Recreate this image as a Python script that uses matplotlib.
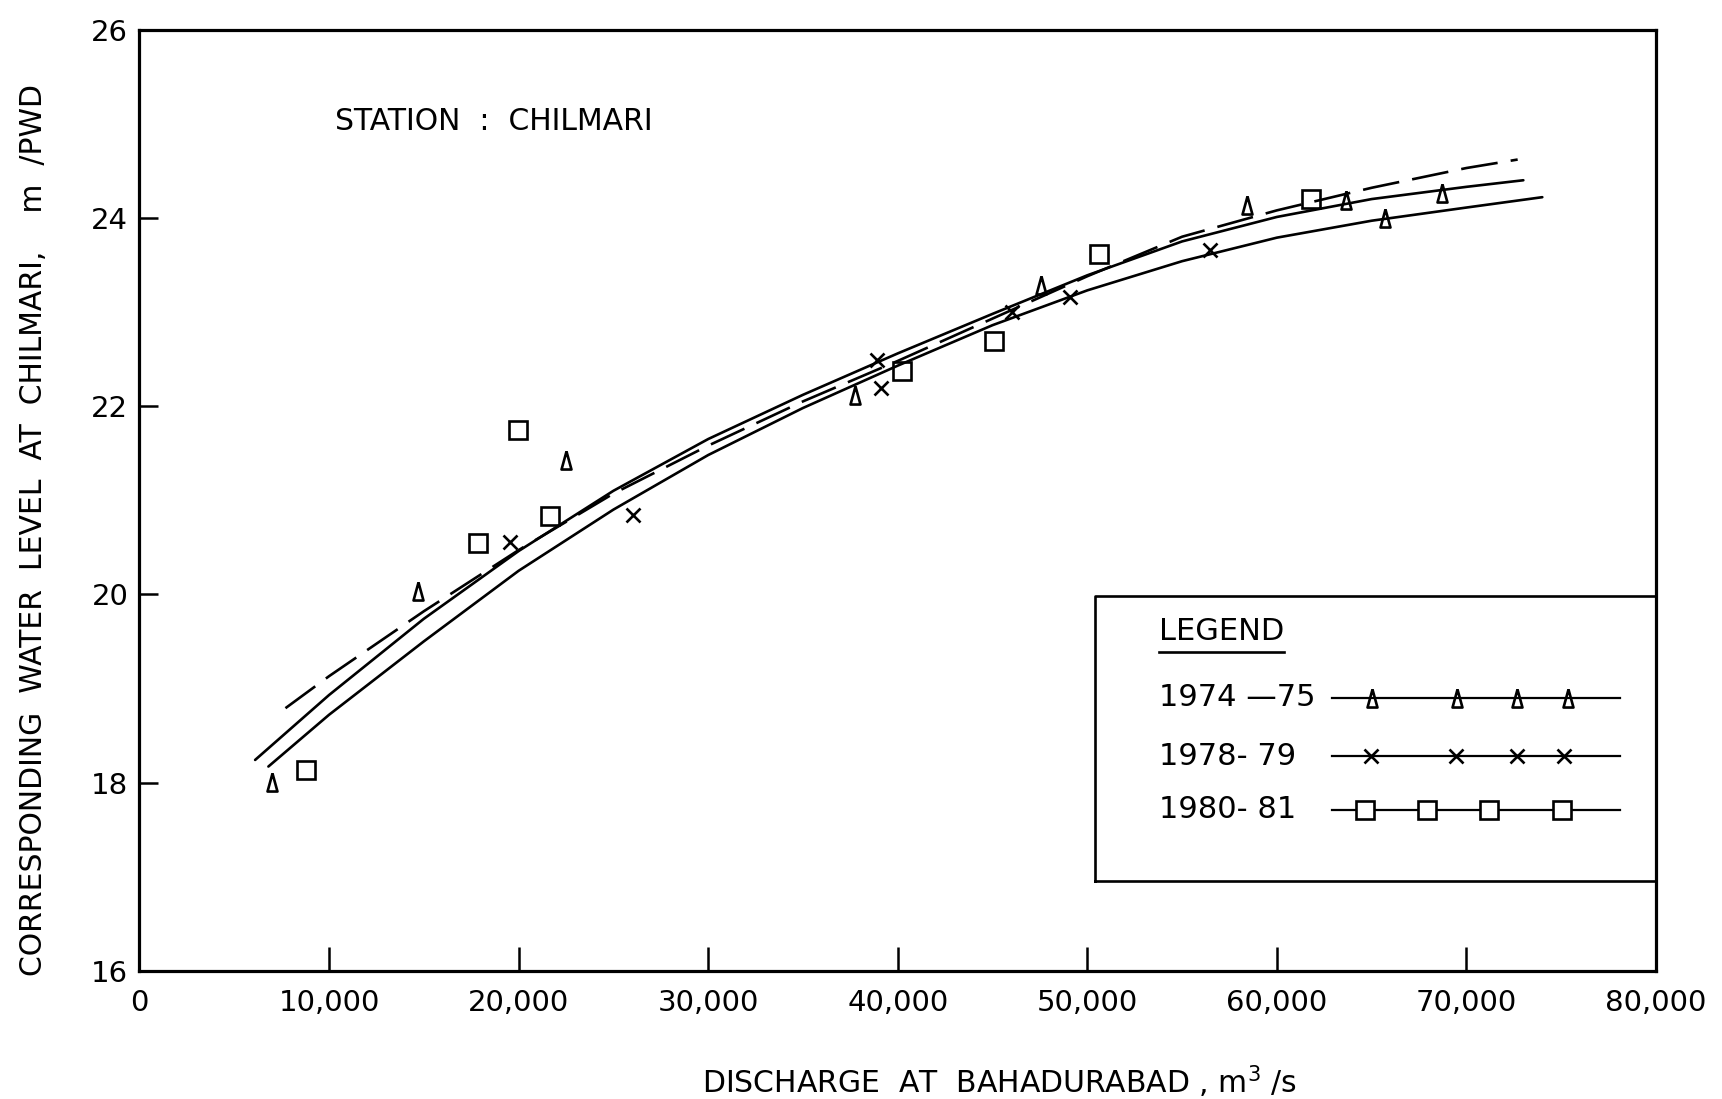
import matplotlib
matplotlib.use("Agg")
import matplotlib.pyplot as plt

# ---------------- data ----------------
tri_x = [6970, 14690, 22500, 37770, 47580, 58400, 63670, 65690, 68730]
tri_y = [18.01, 20.03, 21.43, 22.12, 23.29, 24.14, 24.19, 24.00, 24.26]

cross_x = [19540, 26010, 38880, 39140, 46000, 49080, 56460]
cross_y = [20.56, 20.84, 22.49, 22.19, 23.00, 23.16, 23.66]

sq_x = [8780, 17870, 19980, 21650, 40200, 45070, 50620, 61790]
sq_y = [18.13, 20.55, 21.75, 20.83, 22.37, 22.69, 23.62, 24.20]

upper_x = [6100, 10000, 15000, 20000, 25000, 30000, 35000, 40000, 45000,
           50000, 55000, 60000, 65000, 70000, 73000]
upper_y = [18.24, 18.93, 19.74, 20.46, 21.10, 21.65, 22.12, 22.56, 22.98,
           23.39, 23.75, 24.01, 24.20, 24.33, 24.40]

lower_x = [6800, 10000, 15000, 20000, 25000, 30000, 35000, 40000, 45000,
           50000, 55000, 60000, 65000, 70000, 74000]
lower_y = [18.17, 18.72, 19.50, 20.25, 20.90, 21.48, 21.98, 22.43, 22.86,
           23.23, 23.54, 23.79, 23.97, 24.11, 24.22]

dash_x = [7700, 10000, 15000, 20000, 25000, 30000, 35000, 40000, 45000,
          50000, 55000, 60000, 65000, 70000, 72700]
dash_y = [18.79, 19.13, 19.82, 20.47, 21.07, 21.58, 22.05, 22.48, 22.93,
          23.38, 23.80, 24.08, 24.32, 24.53, 24.62]

x_ticks = [0, 10000, 20000, 30000, 40000, 50000, 60000, 70000, 80000]
x_labels = ["0", "10,000", "20,000", "30,000", "40,000", "50,000",
            "60,000", "70,000", "80,000"]
y_ticks = [16, 18, 20, 22, 24, 26]
y_labels = ["16", "18", "20", "22", "24", "26"]

legend_labels = ["1974 \u201475", "1978- 79", "1980- 81"]

# ---------------- figure ----------------
plt.rcParams['font.family'] = ['DejaVu Sans']
fig = plt.figure(figsize=(17.22, 10.99), dpi=100)
ax = fig.add_axes([0.081, 0.1167, 0.8807, 0.8563])

ax.set_xlim(0, 80000)
ax.set_ylim(16, 26)

lw = 1.9
ax.plot(upper_x, upper_y, color='black', lw=lw, solid_capstyle='round')
ax.plot(lower_x, lower_y, color='black', lw=lw, solid_capstyle='round')
ax.plot(dash_x, dash_y, color='black', lw=lw, linestyle=(0, (14, 5)))

tri_marker = [(0, 1), (-0.55, -1), (0.55, -1), (0, 1)]
ax.plot(tri_x, tri_y, linestyle='none', marker=tri_marker, ms=13,
        mfc='none', mec='black', mew=1.9)
ax.plot(cross_x, cross_y, linestyle='none', marker='x', ms=10,
        mec='black', mew=1.9)
ax.plot(sq_x, sq_y, linestyle='none', marker='s', ms=12.5,
        mfc='none', mec='black', mew=1.9)

# axes styling
for s in ax.spines.values():
    s.set_linewidth(2.3)
ax.set_xticks(x_ticks)
ax.set_xticklabels(x_labels)
ax.set_yticks(y_ticks)
ax.set_yticklabels(y_labels)
ax.tick_params(axis='x', direction='in', length=17, width=1.8, pad=13,
               labelsize=21)
ax.tick_params(axis='y', direction='in', length=14, width=1.8, pad=8,
               labelsize=21)

ax.text(0.129, 0.902, "STATION  :  CHILMARI", transform=ax.transAxes,
        fontsize=21.5, ha='left', va='center')

fig.text(0.0192, 0.518,
         "CORRESPONDING  WATER  LEVEL  AT  CHILMARI,    m  /PWD",
         rotation=90, ha='center', va='center', fontsize=21.5)
fig.text(0.5807, 0.0157, r"DISCHARGE  AT  BAHADURABAD , m$^{3}$ /s",
         ha='center', va='center', fontsize=21.5)

# ---------------- legend box (drawn by hand, like the original) ----------------
tA = ax.transAxes
box_l, box_b, box_t = 0.630, 0.0957, 0.398
ax.plot([box_l, 1.0, 1.0, box_l, box_l], [box_b, box_b, box_t, box_t, box_b],
        transform=tA, color='black', lw=1.9, clip_on=False)
ax.text(0.672, 0.361, "LEGEND", transform=tA, fontsize=22, ha='left',
        va='center')
ax.plot([0.672, 0.755], [0.3385, 0.3385], transform=tA, color='black', lw=1.9)

row_y = [0.290, 0.228, 0.171]
line_x0, line_x1 = 0.786, 0.976
marker_pos = [
    [0.813, 0.869, 0.908, 0.942],
    [0.812, 0.868, 0.908, 0.939],
    [0.808, 0.849, 0.890, 0.938],
]
markers = [dict(marker=tri_marker, ms=13, mfc='none'),
           dict(marker='x', ms=10),
           dict(marker='s', ms=12.5, mfc='white')]
for i, lab in enumerate(legend_labels):
    ax.text(0.672, row_y[i], lab, transform=tA, fontsize=22, ha='left',
            va='center')
    ax.plot([line_x0, line_x1], [row_y[i], row_y[i]], transform=tA,
            color='black', lw=1.6)
    ax.plot(marker_pos[i], [row_y[i]] * 4, transform=tA, linestyle='none',
            mec='black', mew=1.9, **markers[i])

fig.savefig("out.png", dpi=100)
